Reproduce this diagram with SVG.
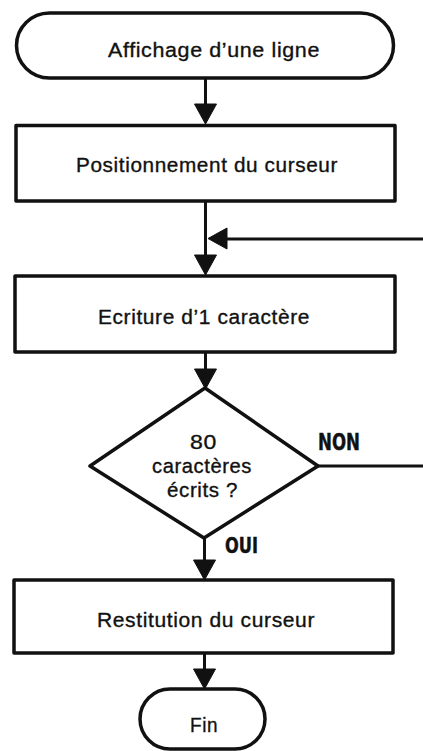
<svg xmlns="http://www.w3.org/2000/svg" width="423" height="751" viewBox="0 0 423 751">
  <style>
    .shape { fill: #fff; stroke: #111; stroke-width: 3.5; stroke-linejoin: round; }
    .line { fill: none; stroke: #111; stroke-width: 3; }
    .label { font-family: "Liberation Sans", Arial, sans-serif; font-size: 20.5px; letter-spacing: 0.6px; fill: #111; stroke: #111; stroke-width: 0.35; }
    .tag { font-family: "Liberation Sans Narrow", "DejaVu Sans Condensed", "Liberation Sans", sans-serif; font-weight: bold; fill: #111; stroke: #111; stroke-width: 0.4; }
    .head { fill: #111; stroke: #111; stroke-width: 1; stroke-linejoin: round; }
  </style>
  <defs>
    <path id="down" class="head" d="M -11 -20 L 11 -20 L 0 0 Z"/>
  </defs>
  <rect width="423" height="751" fill="#fff"/>

  <!-- connectors -->
  <g id="connectors">
    <line class="line" x1="205.5" y1="79" x2="205.5" y2="110"/>
    <use href="#down" x="205.5" y="124"/>
    <line class="line" x1="205.5" y1="202" x2="205.5" y2="260"/>
    <use href="#down" x="205.5" y="275"/>
    <!-- loop back from NON -->
    <line class="line" x1="423" y1="239" x2="222" y2="239"/>
    <path class="head" d="M 208 238.5 L 227 228 L 227 249 Z"/>
    <line class="line" x1="205.5" y1="353" x2="205.5" y2="375"/>
    <use href="#down" x="205.5" y="389"/>
    <line class="line" x1="318" y1="466" x2="423" y2="466"/>
    <line class="line" x1="204.5" y1="537" x2="204.5" y2="565"/>
    <use href="#down" x="204.5" y="580"/>
    <line class="line" x1="204.5" y1="654" x2="204.5" y2="674"/>
    <use href="#down" x="204.5" y="689"/>
  </g>

  <g id="start">
    <rect class="shape" x="16.5" y="13" width="377" height="65" rx="33" ry="32.5"/>
    <text class="label" x="108" y="57" textLength="212" lengthAdjust="spacingAndGlyphs">Affichage d’une ligne</text>
  </g>

  <g id="position">
    <rect class="shape" x="16" y="125.5" width="379" height="75.5"/>
    <text class="label" x="76" y="172" textLength="262" lengthAdjust="spacingAndGlyphs">Positionnement du curseur</text>
  </g>

  <g id="write">
    <rect class="shape" x="15" y="276" width="380" height="76"/>
    <text class="label" x="98" y="324" textLength="212" lengthAdjust="spacingAndGlyphs">Ecriture d’1 caractère</text>
  </g>

  <g id="test">
    <path class="shape" d="M 205 388 L 318 466 L 204 538 L 90 466 Z"/>
    <text class="label" x="190" y="449" textLength="27" lengthAdjust="spacingAndGlyphs">80</text>
    <text class="label" x="152" y="473" textLength="100" lengthAdjust="spacingAndGlyphs">caractères</text>
    <text class="label" x="167" y="497" textLength="71" lengthAdjust="spacingAndGlyphs">écrits ?</text>
    <text class="tag" x="318" y="449.5" font-size="23" textLength="42" lengthAdjust="spacingAndGlyphs">NON</text>
    <text class="tag" x="225" y="553" font-size="21" textLength="33" lengthAdjust="spacingAndGlyphs">OUI</text>
  </g>

  <g id="restore">
    <rect class="shape" x="14" y="580" width="379" height="73"/>
    <text class="label" x="97" y="627" textLength="218" lengthAdjust="spacingAndGlyphs">Restitution du curseur</text>
  </g>

  <g id="end">
    <rect class="shape" x="140" y="689" width="125" height="60" rx="30" ry="30"/>
    <text class="label" x="190" y="732" textLength="28" lengthAdjust="spacingAndGlyphs">Fin</text>
  </g>
</svg>
